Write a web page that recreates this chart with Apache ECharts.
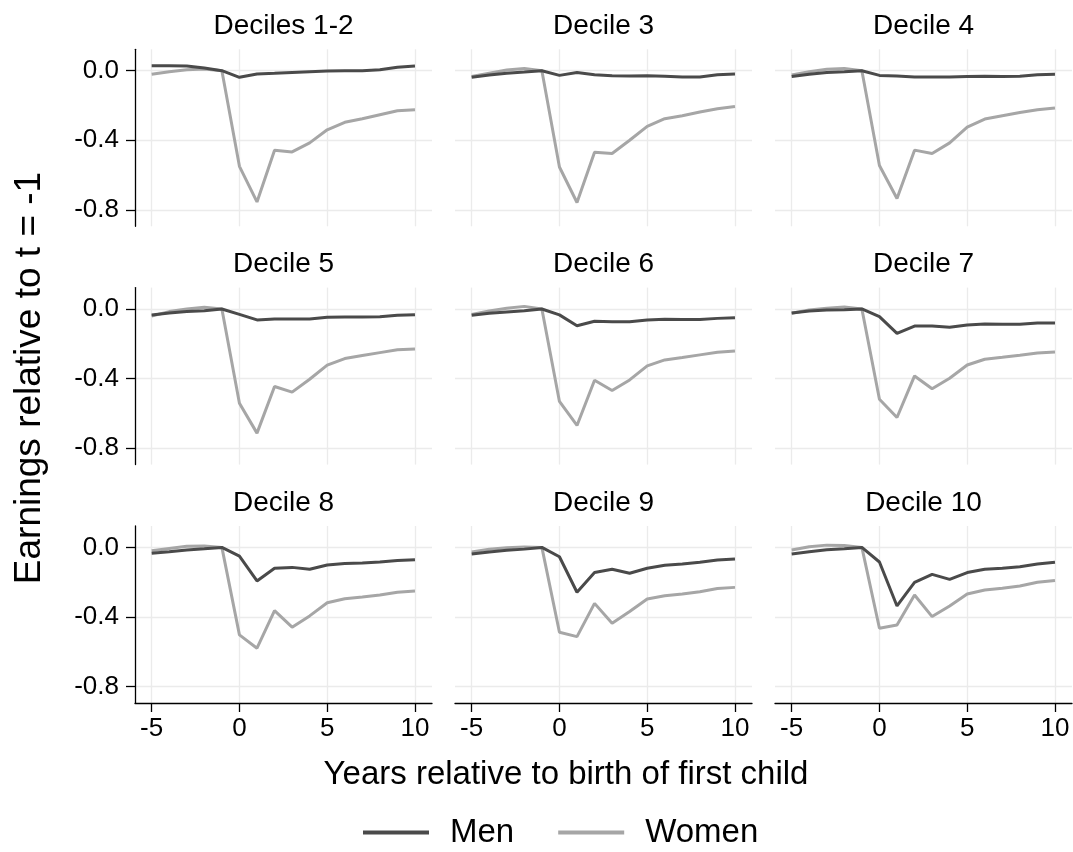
<!DOCTYPE html>
<html><head><meta charset="utf-8">
<script src="https://cdn.jsdelivr.net/npm/echarts@6/dist/echarts.min.js"></script>
<style>html,body{margin:0;padding:0;background:#fff}#c{width:1073px;height:852px}</style>
</head><body><div id="c"></div>
<script>
const years = [-5,-4,-3,-2,-1,0,1,2,3,4,5,6,7,8,9,10];
const panelTitles = ['Deciles 1-2','Decile 3','Decile 4','Decile 5','Decile 6','Decile 7','Decile 8','Decile 9','Decile 10'];
const xTicks = [-5,0,5,10];
const yTicks = [-0.8,-0.4,0];

const menD1_2 = [0.029,0.029,0.027,0.015,0,-0.038,-0.019,-0.015,-0.01,-0.006,-0.002,0,0,0.005,0.02,0.027];
const womenD1_2 = [-0.02,-0.006,0.005,0.01,0,-0.55,-0.755,-0.457,-0.467,-0.415,-0.34,-0.297,-0.276,-0.253,-0.23,-0.225];
const menD3 = [-0.038,-0.025,-0.015,-0.008,0,-0.027,-0.011,-0.023,-0.029,-0.03,-0.029,-0.032,-0.036,-0.036,-0.023,-0.019];
const womenD3 = [-0.034,-0.015,0.004,0.013,0,-0.554,-0.758,-0.469,-0.476,-0.4,-0.32,-0.276,-0.259,-0.238,-0.219,-0.206];
const menD4 = [-0.034,-0.021,-0.011,-0.006,0,-0.027,-0.03,-0.036,-0.036,-0.036,-0.034,-0.032,-0.034,-0.032,-0.023,-0.021];
const womenD4 = [-0.025,-0.006,0.008,0.013,0,-0.545,-0.735,-0.457,-0.476,-0.415,-0.324,-0.278,-0.259,-0.24,-0.225,-0.215];
const menD5 = [-0.034,-0.023,-0.015,-0.01,0,-0.031,-0.063,-0.057,-0.057,-0.057,-0.048,-0.046,-0.046,-0.044,-0.036,-0.033];
const womenD5 = [-0.04,-0.015,0,0.01,0,-0.542,-0.714,-0.446,-0.478,-0.404,-0.323,-0.285,-0.268,-0.251,-0.235,-0.23];
const menD6 = [-0.036,-0.025,-0.017,-0.01,0,-0.034,-0.096,-0.071,-0.073,-0.073,-0.063,-0.059,-0.061,-0.061,-0.054,-0.05];
const womenD6 = [-0.031,-0.011,0.004,0.015,0,-0.532,-0.67,-0.41,-0.469,-0.408,-0.327,-0.293,-0.279,-0.264,-0.249,-0.241];
const menD7 = [-0.023,-0.011,-0.006,-0.004,0,-0.044,-0.14,-0.098,-0.098,-0.105,-0.092,-0.086,-0.088,-0.088,-0.08,-0.08];
const womenD7 = [-0.025,-0.006,0.004,0.011,0,-0.519,-0.624,-0.385,-0.459,-0.398,-0.322,-0.289,-0.278,-0.266,-0.253,-0.247];
const menD8 = [-0.034,-0.025,-0.015,-0.008,0,-0.05,-0.193,-0.12,-0.115,-0.126,-0.101,-0.092,-0.09,-0.084,-0.075,-0.071];
const womenD8 = [-0.019,-0.006,0.006,0.008,0,-0.503,-0.58,-0.364,-0.459,-0.394,-0.318,-0.295,-0.285,-0.274,-0.258,-0.251];
const menD9 = [-0.038,-0.027,-0.017,-0.01,0,-0.054,-0.258,-0.145,-0.126,-0.149,-0.12,-0.103,-0.096,-0.086,-0.073,-0.067];
const womenD9 = [-0.027,-0.011,-0.002,0.002,0,-0.488,-0.513,-0.322,-0.436,-0.369,-0.297,-0.278,-0.268,-0.255,-0.237,-0.23];
const menD10 = [-0.038,-0.025,-0.013,-0.008,0,-0.084,-0.337,-0.201,-0.155,-0.184,-0.145,-0.126,-0.12,-0.111,-0.096,-0.086];
const womenD10 = [-0.015,0.004,0.013,0.011,0,-0.465,-0.446,-0.274,-0.398,-0.337,-0.268,-0.245,-0.235,-0.222,-0.201,-0.191];

const menAll = [menD1_2,menD3,menD4,menD5,menD6,menD7,menD8,menD9,menD10];
const womenAll = [womenD1_2,womenD3,womenD4,womenD5,womenD6,womenD7,womenD8,womenD9,womenD10];

const FONT = "'Liberation Sans', Arial, Helvetica, sans-serif";
const MEN_COLOR = '#4a4a4a', WOMEN_COLOR = '#a6a6a6';
const colLeft = [135, 455, 775], panelW = 297;
const rowTop = [49.3, 287.6, 526], panelH = 177;

const grids = [], xAxes = [], yAxes = [], series = [], graphics = [];
for (let i = 0; i < 9; i++) {
  const r = Math.floor(i / 3), c = i % 3;
  grids.push({left: colLeft[c], top: rowTop[r], width: panelW, height: panelH, containLabel: false});
  const bottom = r === 2, left = c === 0;
  xAxes.push({
    type: 'value', gridIndex: i, min: -5.95, max: 10.97,
    axisLine: {show: bottom, onZero: false, lineStyle: {color: '#000', width: 1.3}},
    axisTick: {show: bottom, customValues: xTicks, length: 9, lineStyle: {color: '#000', width: 1.3}},
    axisLabel: {show: bottom, customValues: xTicks, margin: 13, color: '#000', fontSize: 26, fontFamily: FONT},
    splitLine: {show: true, lineStyle: {color: '#ebebeb', width: 1.3}}
  });
  yAxes.push({
    type: 'value', gridIndex: i, min: -0.895, max: 0.123,
    axisLine: {show: left, onZero: false, lineStyle: {color: '#000', width: 1.3}},
    axisTick: {show: left, customValues: yTicks, length: 9, lineStyle: {color: '#000', width: 1.3}},
    axisLabel: {show: left, customValues: yTicks, margin: 16, color: '#000', fontSize: 26, fontFamily: FONT,
      formatter: v => v.toFixed(1)},
    splitLine: {show: true, lineStyle: {color: '#ebebeb', width: 1.3}}
  });
  series.push({
    name: 'Men', type: 'line', xAxisIndex: i, yAxisIndex: i, symbol: 'none', z: 3,
    lineStyle: {color: MEN_COLOR, width: 3}, itemStyle: {color: MEN_COLOR},
    data: years.map((x, j) => [x, menAll[i][j]])
  });
  series.push({
    name: 'Women', type: 'line', xAxisIndex: i, yAxisIndex: i, symbol: 'none', z: 2,
    lineStyle: {color: WOMEN_COLOR, width: 3}, itemStyle: {color: WOMEN_COLOR},
    data: years.map((x, j) => [x, womenAll[i][j]])
  });
  graphics.push({
    type: 'text', x: colLeft[c] + panelW / 2, y: rowTop[r] - 23,
    style: {text: panelTitles[i], align: 'center', verticalAlign: 'middle', fill: '#000', font: '28px ' + FONT}
  });
}
graphics.push({
  type: 'text', x: 566, y: 775,
  style: {text: 'Years relative to birth of first child', align: 'center', verticalAlign: 'middle', fill: '#000', font: '33px ' + FONT}
});
graphics.push({
  type: 'text', x: 30, y: 378, rotation: Math.PI / 2,
  style: {text: 'Earnings relative to t = -1', align: 'center', verticalAlign: 'middle', fill: '#000', font: '37px ' + FONT}
});

const chart = echarts.init(document.getElementById('c'), null, {renderer: 'canvas'});
chart.setOption({
  animation: false,
  backgroundColor: '#fff',
  grid: grids, xAxis: xAxes, yAxis: yAxes, series: series,
  legend: {
    data: ['Men', 'Women'], left: 358, top: 811, icon: 'rect', itemWidth: 66, itemHeight: 4, itemGap: 44,
    textStyle: {fontSize: 33, fontFamily: FONT, color: '#000', padding: [0, 0, 0, 16]}
  },
  graphic: graphics
});
</script></body></html>
